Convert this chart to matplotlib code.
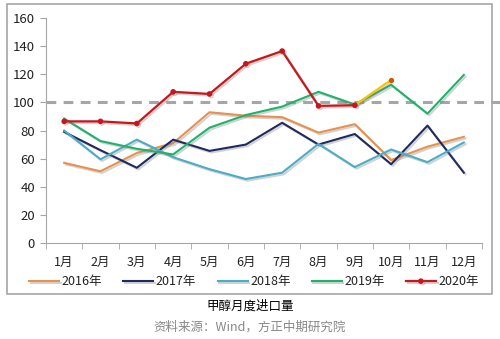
import matplotlib.pyplot as plt
import matplotlib.patheffects as pe
from matplotlib.patches import Rectangle

plt.rcParams['font.family'] = ['Noto Sans CJK SC', 'DejaVu Sans']

# 甲醇月度进口量（万吨）
months = ['1月', '2月', '3月', '4月', '5月', '6月', '7月', '8月', '9月', '10月', '11月', '12月']
y2016 = [57, 51, 64, 71, 93, 90.5, 89.5, 78.5, 84.5, 59, 68.5, 75.5]
y2017 = [79, 66, 53.5, 73.5, 65.5, 70, 85.5, 70, 77.5, 56, 83.5, 50]
y2018 = [80, 59.5, 73.5, 61, 52.5, 45.5, 50, 70.5, 54, 66.5, 57.5, 71.5]
y2019 = [88.5, 72.5, 67, 63, 82, 91, 97, 107.5, 98.5, 112.5, 92, 119.5]
y2020 = [86.5, 86.5, 85, 107.5, 106, 127.5, 136.5, 97.5, 98]
y2020_oct = 116

fig = plt.figure(figsize=(5, 3.39), dpi=100)
ax = fig.add_axes([46 / 500, 1 - 243 / 339, 436 / 500, 225 / 339])

shadow = [pe.SimpleLineShadow(offset=(1.2, -1.2), shadow_color='gray', alpha=0.35), pe.Normal()]
x = list(range(12))

ax.plot([-0.5, 12.05], [100, 100], color='#a6a6a6', lw=2.2, ls=(0, (3.2, 2.4)),
        clip_on=False, zorder=1)

ax.plot(x, y2016, color='#e8914e', lw=1.5, path_effects=shadow, label='2016年')
ax.plot(x, y2017, color='#1f2a5e', lw=1.5, path_effects=shadow, label='2017年')
ax.plot(x, y2018, color='#4bacc6', lw=1.5, path_effects=shadow, label='2018年')
ax.plot(x, y2019, color='#1db36b', lw=1.5, path_effects=shadow, label='2019年')
ax.plot([8, 9], [y2020[-1], y2020_oct], color='#ffc000', lw=1.6, path_effects=shadow, zorder=3)
ax.plot([9], [y2020_oct], 'o', color='#c55a11', ms=2.8, zorder=4)
ax.plot(x[:len(y2020)], y2020, color='#c8161d', lw=1.6, marker='o', ms=3,
        path_effects=shadow, label='2020年', zorder=5)

ax.set_xlim(-0.5, 11.5)
ax.set_ylim(0, 160)
ax.set_yticks(range(0, 161, 20))
ax.set_xticks(x)
ax.set_xticklabels(months)
ax.set_xticks([i - 0.5 for i in range(13)], minor=True)
ax.tick_params(axis='x', which='major', length=0, pad=9, labelsize=9, labelcolor='#222222')
ax.tick_params(axis='x', which='minor', length=4, color='#a6a6a6')
ax.tick_params(axis='y', length=4, color='#a6a6a6', labelsize=9.5, labelcolor='#222222', pad=4)
for s in ['top', 'right']:
    ax.spines[s].set_visible(False)
for s in ['left', 'bottom']:
    ax.spines[s].set_color('#a6a6a6')

fig.legend(loc='center', bbox_to_anchor=(0.508, 1 - 282 / 339), ncol=5, frameon=False,
           fontsize=9, handlelength=2.4, handletextpad=0.2, columnspacing=1.7,
           labelcolor='#222222')

# 外边框
fig.add_artist(Rectangle((7 / 500, 1 - 294 / 339), 485 / 500, 290 / 339,
                         transform=fig.transFigure, fill=False, ec='#a6a6a6', lw=1.2))

fig.text(0.5, 1 - 306 / 339, '甲醇月度进口量', ha='center', va='center', fontsize=9, color='black')
fig.text(0.5, 1 - 327 / 339, '资料来源：Wind，方正中期研究院', ha='center', va='center',
         fontsize=9, color='#888888')

fig.savefig('out.png', dpi=100)
